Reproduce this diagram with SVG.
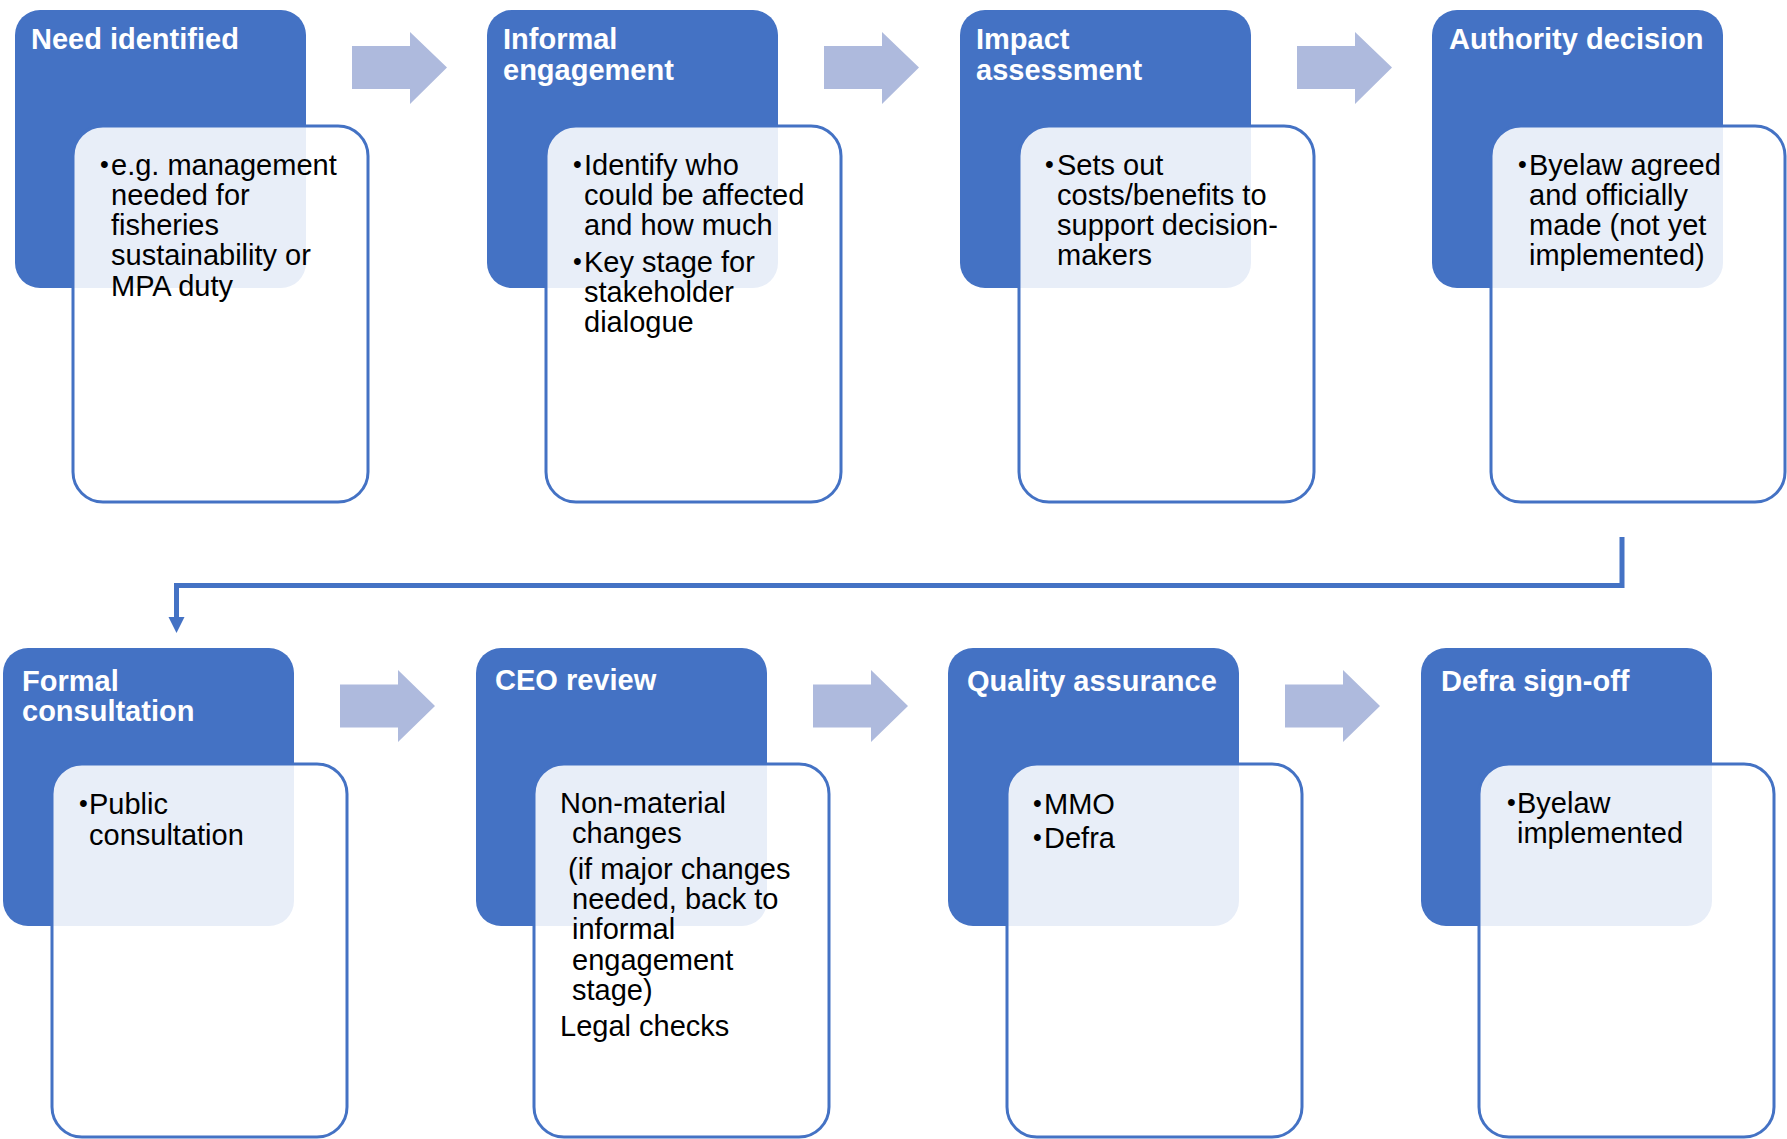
<svg xmlns="http://www.w3.org/2000/svg" width="1787" height="1139" viewBox="0 0 1787 1139">
<defs>
<style>
.hd{fill:#4472C4}
.bx{fill:#FFFFFF;fill-opacity:0.88;stroke:#4472C4;stroke-width:3}
.tt{font-family:"Liberation Sans",Arial,sans-serif;font-size:29px;font-weight:bold;fill:#FFFFFF}
.tx{font-family:"Liberation Sans",Arial,sans-serif;font-size:29px;fill:#000000}
.bu{font-family:"Liberation Sans",Arial,sans-serif;font-size:25px;fill:#000000}
.ar{fill:#AEBADD}
.ln{fill:none;stroke:#4472C4;stroke-width:5}
</style>
</defs>
<rect width="1787" height="1139" fill="#FFFFFF"/>

<g id="connectors">
<polygon class="ar" points="352,46 410,46 410,32 447,67.5 410,104 410,89 352,89"/>
<polygon class="ar" points="824,46 882,46 882,32 919,67.5 882,104 882,89 824,89"/>
<polygon class="ar" points="1297,46 1355,46 1355,32 1392,67.5 1355,104 1355,89 1297,89"/>
<polygon class="ar" points="340,684.5 398,684.5 398,670 435,706 398,742 398,727.5 340,727.5"/>
<polygon class="ar" points="813,684.5 871,684.5 871,670 908,706 871,742 871,727.5 813,727.5"/>
<polygon class="ar" points="1285,684.5 1343,684.5 1343,670 1380,706 1343,742 1343,727.5 1285,727.5"/>
<path class="ln" d="M1622,537 L1622,585.5 L176.5,585.5 L176.5,618"/>
<path d="M168.5,617 L184.5,617 L176.5,633 Z" fill="#4472C4"/>
</g>

<g id="node-need-identified">
<rect class="hd" x="15" y="10" width="291" height="278" rx="25"/>
<rect class="bx" x="73" y="126" width="295" height="376" rx="30"/>
<text class="tt" x="31" y="49">Need identified</text>
<text class="bu" x="100" y="173">•</text>
<text class="tx" x="111" y="175">e.g. management</text>
<text class="tx" x="111" y="205">needed for</text>
<text class="tx" x="111" y="235">fisheries</text>
<text class="tx" x="111" y="265">sustainability or</text>
<text class="tx" x="111" y="296">MPA duty</text>
</g>

<g id="node-informal-engagement">
<rect class="hd" x="487" y="10" width="291" height="278" rx="25"/>
<rect class="bx" x="546" y="126" width="295" height="376" rx="30"/>
<text class="tt" x="503" y="49">Informal</text>
<text class="tt" x="503" y="80">engagement</text>
<text class="bu" x="573" y="173">•</text>
<text class="tx" x="584" y="175">Identify who</text>
<text class="tx" x="584" y="205">could be affected</text>
<text class="tx" x="584" y="235">and how much</text>
<text class="bu" x="573" y="270">•</text>
<text class="tx" x="584" y="272">Key stage for</text>
<text class="tx" x="584" y="302">stakeholder</text>
<text class="tx" x="584" y="332">dialogue</text>
</g>

<g id="node-impact-assessment">
<rect class="hd" x="960" y="10" width="291" height="278" rx="25"/>
<rect class="bx" x="1019" y="126" width="295" height="376" rx="30"/>
<text class="tt" x="976" y="49">Impact</text>
<text class="tt" x="976" y="80">assessment</text>
<text class="bu" x="1045" y="173">•</text>
<text class="tx" x="1057" y="175">Sets out</text>
<text class="tx" x="1057" y="205">costs/benefits to</text>
<text class="tx" x="1057" y="235">support decision-</text>
<text class="tx" x="1057" y="265">makers</text>
</g>

<g id="node-authority-decision">
<rect class="hd" x="1432" y="10" width="291" height="278" rx="25"/>
<rect class="bx" x="1491" y="126" width="294" height="376" rx="30"/>
<text class="tt" x="1449" y="49">Authority decision</text>
<text class="bu" x="1518" y="173">•</text>
<text class="tx" x="1529" y="175">Byelaw agreed</text>
<text class="tx" x="1529" y="205">and officially</text>
<text class="tx" x="1529" y="235">made (not yet</text>
<text class="tx" x="1529" y="265">implemented)</text>
</g>

<g id="node-formal-consultation">
<rect class="hd" x="3" y="648" width="291" height="278" rx="25"/>
<rect class="bx" x="52" y="764" width="295" height="373" rx="30"/>
<text class="tt" x="22" y="691">Formal</text>
<text class="tt" x="22" y="721">consultation</text>
<text class="bu" x="79" y="812">•</text>
<text class="tx" x="89" y="814">Public</text>
<text class="tx" x="89" y="845">consultation</text>
</g>

<g id="node-ceo-review">
<rect class="hd" x="476" y="648" width="291" height="278" rx="25"/>
<rect class="bx" x="534" y="764" width="295" height="373" rx="30"/>
<text class="tt" x="495" y="690">CEO review</text>
<text class="tx" x="560" y="813">Non-material</text>
<text class="tx" x="572" y="843">changes</text>
<text class="tx" x="568" y="879">(if major changes</text>
<text class="tx" x="572" y="909">needed, back to</text>
<text class="tx" x="572" y="939">informal</text>
<text class="tx" x="572" y="970">engagement</text>
<text class="tx" x="572" y="1000">stage)</text>
<text class="tx" x="560" y="1036">Legal checks</text>
</g>

<g id="node-quality-assurance">
<rect class="hd" x="948" y="648" width="291" height="278" rx="25"/>
<rect class="bx" x="1007" y="764" width="295" height="373" rx="30"/>
<text class="tt" x="967" y="691">Quality assurance</text>
<text class="bu" x="1033" y="812">•</text>
<text class="tx" x="1044" y="814">MMO</text>
<text class="bu" x="1033" y="846">•</text>
<text class="tx" x="1044" y="848">Defra</text>
</g>

<g id="node-defra-sign-off">
<rect class="hd" x="1421" y="648" width="291" height="278" rx="25"/>
<rect class="bx" x="1479" y="764" width="295" height="373" rx="30"/>
<text class="tt" x="1441" y="691">Defra sign-off</text>
<text class="bu" x="1507" y="811">•</text>
<text class="tx" x="1517" y="813">Byelaw</text>
<text class="tx" x="1517" y="843">implemented</text>
</g>
</svg>
